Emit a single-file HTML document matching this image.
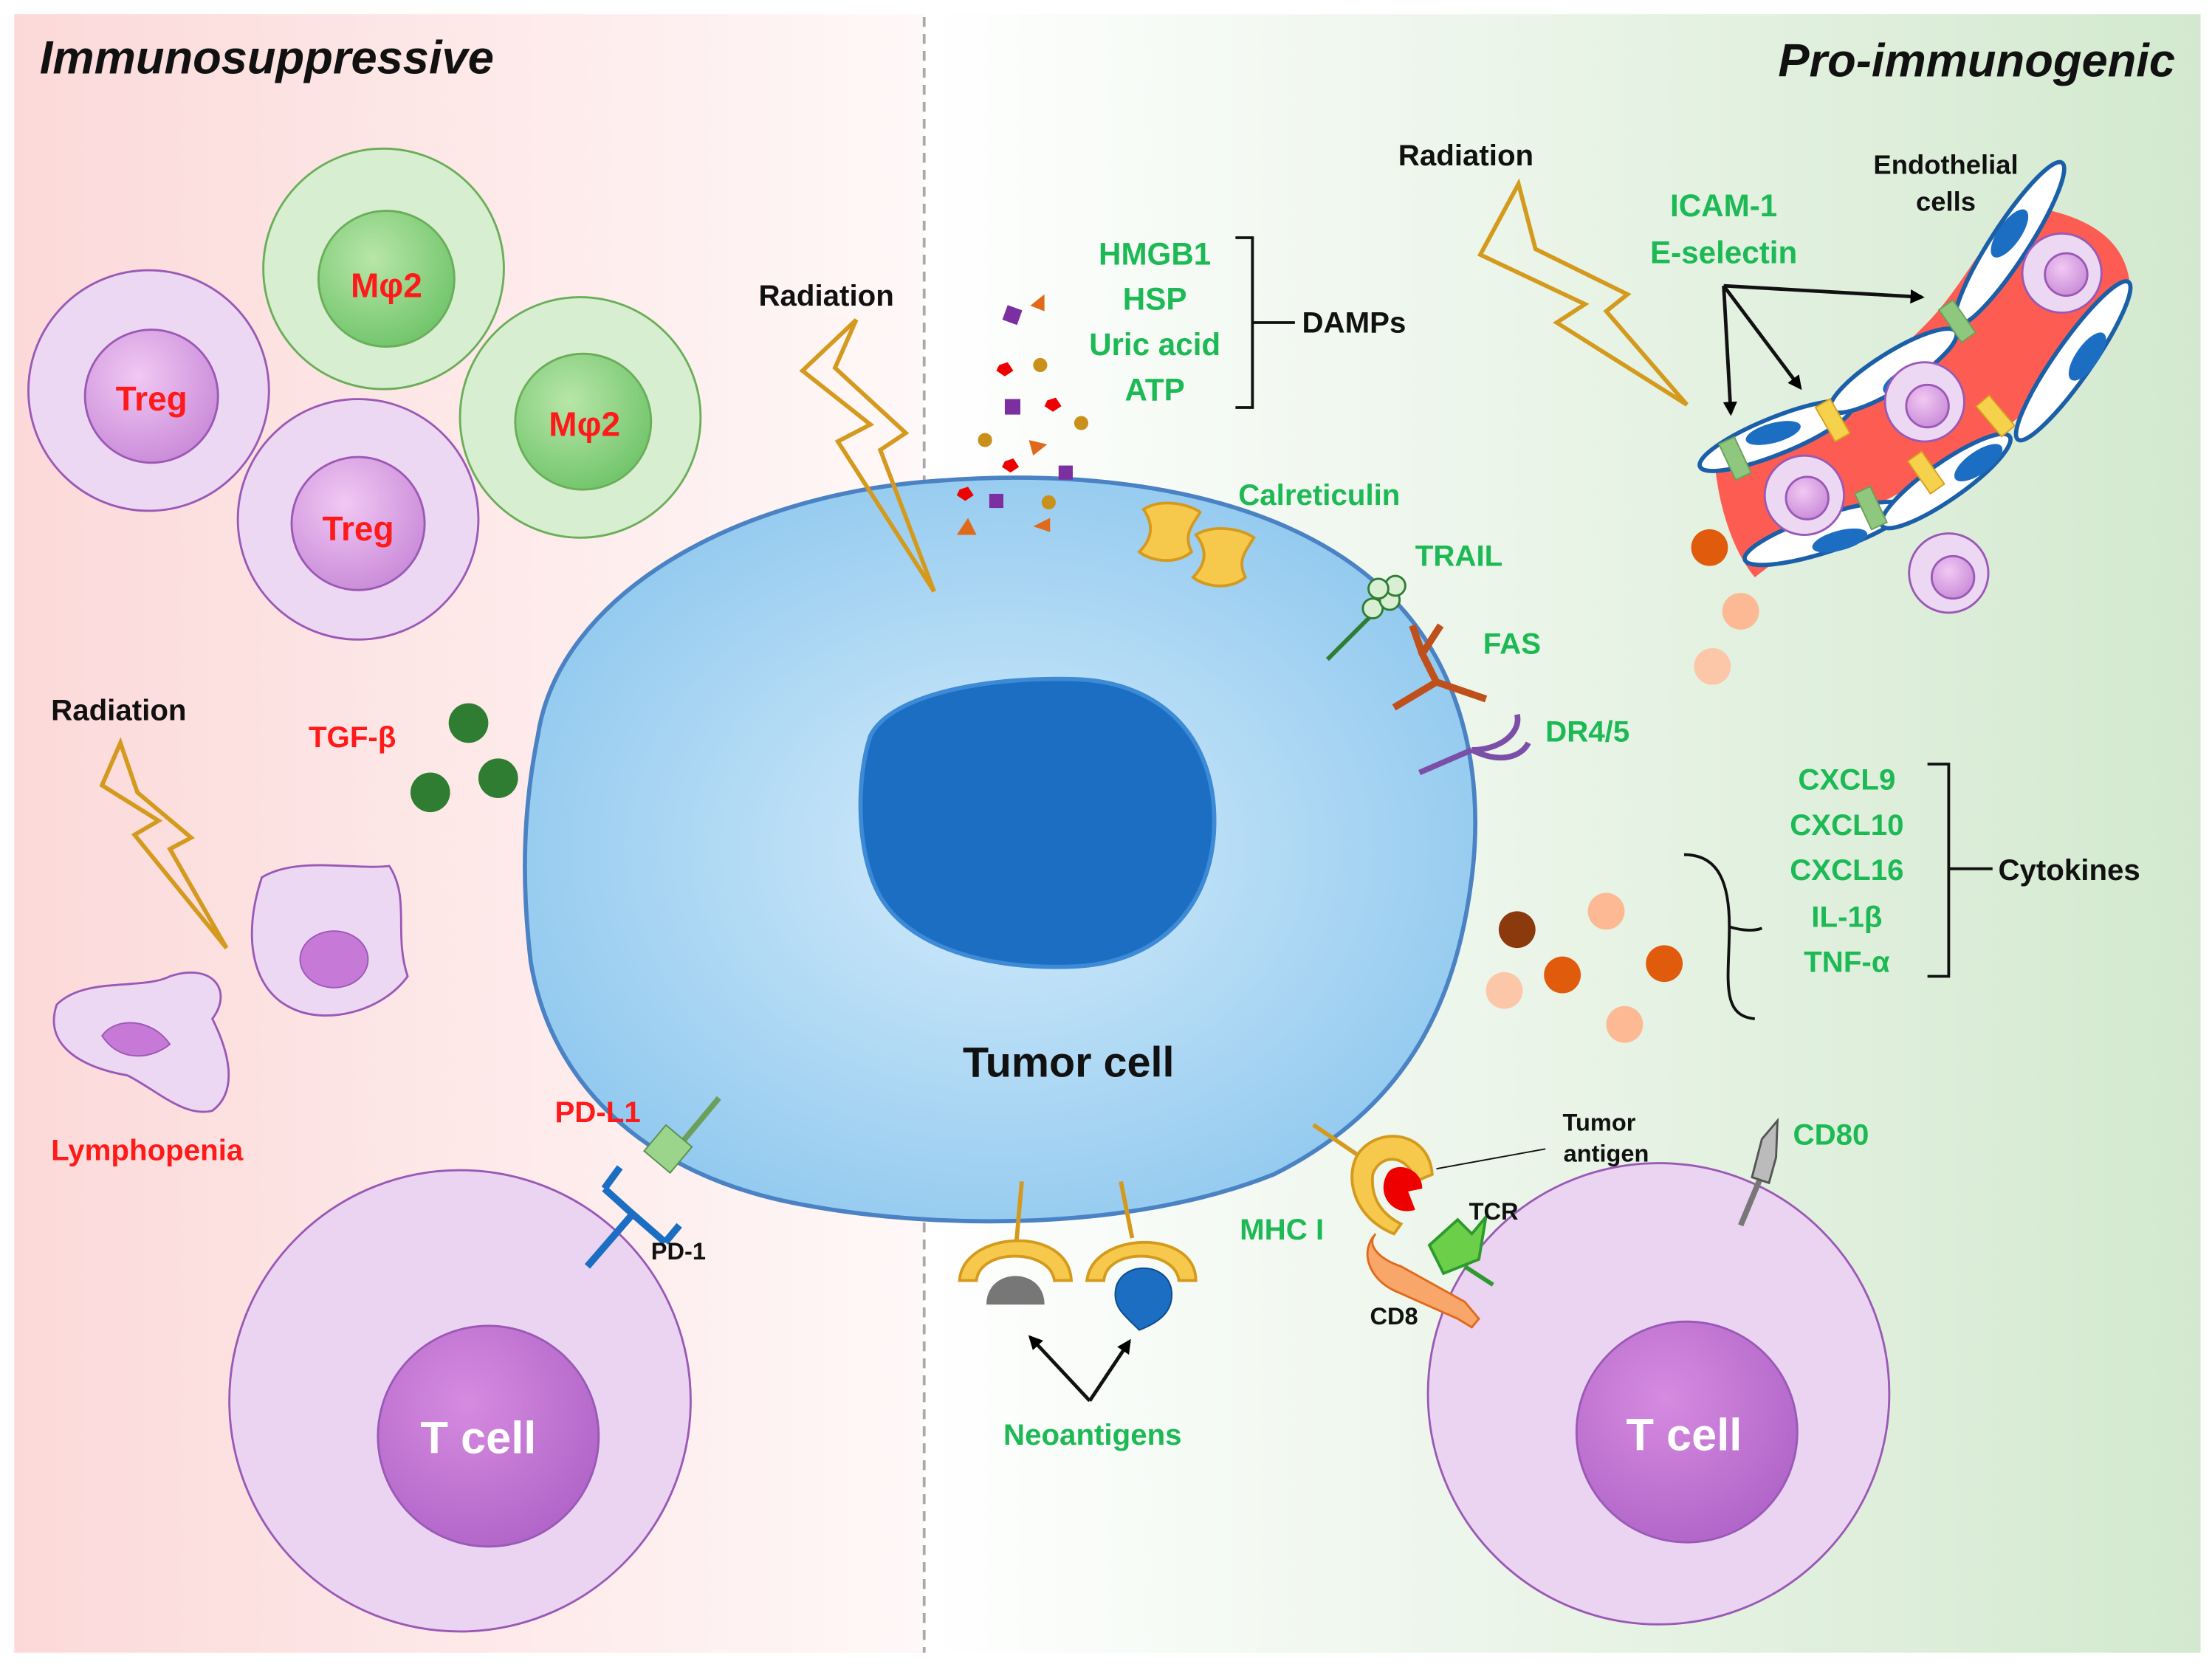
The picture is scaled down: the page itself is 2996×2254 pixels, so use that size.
<!DOCTYPE html>
<html><head><meta charset="utf-8"><style>
html,body{margin:0;padding:0;background:#fff;}
svg{display:block;}
text{font-family:"Liberation Sans",sans-serif;font-weight:bold;}
</style></head><body>
<svg width="2996" height="2254" viewBox="0 0 1563 1176" xmlns="http://www.w3.org/2000/svg">
<defs>
<linearGradient id="lbg" x1="0" x2="1"><stop offset="0" stop-color="#fcd9d9"/><stop offset="1" stop-color="#fff8f8"/></linearGradient>
<linearGradient id="rbg" x1="0" x2="1"><stop offset="0" stop-color="#ffffff"/><stop offset="1" stop-color="#d3e9cf"/></linearGradient>
<radialGradient id="tum" cx="0.5" cy="0.5" r="0.6"><stop offset="0" stop-color="#d4ecfb"/><stop offset="1" stop-color="#8cc6ee"/></radialGradient>
<radialGradient id="inP" cx="0.4" cy="0.35" r="0.7"><stop offset="0" stop-color="#f1c8f3"/><stop offset="1" stop-color="#c98ad8"/></radialGradient>
<radialGradient id="inG" cx="0.4" cy="0.35" r="0.7"><stop offset="0" stop-color="#b8e6a8"/><stop offset="1" stop-color="#6fc46a"/></radialGradient>
<radialGradient id="inT" cx="0.4" cy="0.35" r="0.7"><stop offset="0" stop-color="#d68be0"/><stop offset="1" stop-color="#b064c8"/></radialGradient>
<marker id="ar" markerWidth="10" markerHeight="10" refX="8" refY="5" orient="auto" markerUnits="userSpaceOnUse"><path d="M0,0 L10,5 L0,10 z" fill="#000"/></marker>
</defs>
<rect x="0" y="0" width="1563" height="1176" fill="#fff"/>
<rect x="10" y="10" width="643" height="1158" fill="url(#lbg)"/>
<rect x="653" y="10" width="902" height="1158" fill="url(#rbg)"/>
<line x1="653" y1="12" x2="653" y2="1168" stroke="#aaa" stroke-width="2" stroke-dasharray="7,5"/>
<text x="28" y="52" font-size="33" font-style="italic" fill="#111">Immunosuppressive</text>
<text x="1537" y="54" font-size="33" font-style="italic" fill="#111" text-anchor="end">Pro-immunogenic</text>

<g stroke="#9b59b6" stroke-width="1.5">
<circle cx="105" cy="276" r="85" fill="#ecd8f3"/><circle cx="107" cy="280" r="47" fill="url(#inP)"/>
<circle cx="253" cy="367" r="85" fill="#ecd8f3"/><circle cx="253" cy="370" r="47" fill="url(#inP)"/>
</g>
<g stroke="#6aae5a" stroke-width="1.5">
<circle cx="271" cy="190" r="85" fill="#d7eed0"/><circle cx="273" cy="197" r="48" fill="url(#inG)"/>
<circle cx="410" cy="295" r="85" fill="#d7eed0"/><circle cx="412" cy="298" r="48" fill="url(#inG)"/>
</g>
<g font-size="24" fill="#ff1a1a" text-anchor="middle">
<text x="107" y="290">Treg</text><text x="253" y="382">Treg</text>
<text x="273" y="210">Mφ2</text><text x="413" y="308">Mφ2</text>
</g>

<text x="36" y="509" font-size="21" fill="#111">Radiation</text>
<polygon points="85,525 72,555 112,580 95,590 160,670 120,600 135,592 97,560" fill="none" stroke="#d49a1e" stroke-width="3"/>
<path d="M185,620 C210,605 250,615 275,612 C290,635 278,660 288,690 C270,715 230,725 205,712 C180,700 170,665 185,620z" fill="#ecd8f3" stroke="#9b59b6" stroke-width="1.5"/>
<ellipse cx="236" cy="678" rx="24" ry="20" fill="#c779d8" stroke="#9b59b6"/>
<path d="M40,710 C60,690 100,700 120,690 C150,680 165,700 150,720 C160,740 170,770 150,785 C130,790 110,770 90,760 C60,755 30,740 40,710z" fill="#ecd8f3" stroke="#9b59b6" stroke-width="1.5"/>
<path d="M72,732 C82,718 108,720 120,738 C108,748 85,752 72,732z" fill="#c779d8" stroke="#9b59b6"/>
<text x="36" y="820" font-size="21" fill="#ff1a1a">Lymphopenia</text>
<text x="218" y="528" font-size="21" fill="#ff1a1a">TGF-β</text>
<circle cx="331" cy="511" r="14" fill="#2e7d32"/><circle cx="304" cy="560" r="14" fill="#2e7d32"/><circle cx="352" cy="550" r="14" fill="#2e7d32"/>

<text x="536" y="216" font-size="21" fill="#111">Radiation</text>

<path d="M380,520 C395,420 520,350 660,340 C780,330 900,350 970,410 C1030,460 1050,540 1040,620 C1030,700 1000,780 900,830 C800,870 660,870 560,850 C460,830 390,770 375,680 C368,620 370,570 380,520z" fill="url(#tum)" stroke="#4a82c4" stroke-width="3"/>
<path d="M615,520 C630,490 700,478 760,480 C820,482 858,520 858,580 C858,640 820,680 760,683 C700,686 640,670 620,630 C605,600 605,550 615,520z" fill="#1b6ec2" stroke="#3d8ad6" stroke-width="3"/>
<text x="755" y="761" font-size="30" fill="#111" text-anchor="middle">Tumor cell</text>
<polygon points="605,226 567,262 615,300 592,312 660,418 622,318 640,306 590,260" fill="none" stroke="#d49a1e" stroke-width="3"/>

<g>
<rect x="710" y="217" width="11" height="11" fill="#7b2fa0" transform="rotate(20 715 222)"/>
<polygon points="728,216 738,208 738,220" fill="#e06a1b"/>
<circle cx="735" cy="258" r="5" fill="#c9911c"/>
<polygon points="706,258 712,256 716,262 710,266 704,262" fill="#e00"/>
<rect x="710" y="282" width="11" height="11" fill="#7b2fa0"/>
<polygon points="740,283 746,281 750,287 744,291 738,287" fill="#e00"/>
<circle cx="764" cy="299" r="5" fill="#c9911c"/>
<circle cx="696" cy="311" r="5" fill="#c9911c"/>
<polygon points="727,311 740,314 730,322" fill="#e06a1b"/>
<polygon points="710,326 716,324 720,330 714,334 708,330" fill="#e00"/>
<rect x="748" y="329" width="10" height="10" fill="#7b2fa0"/>
<polygon points="678,346 684,344 688,350 682,354 676,350" fill="#e00"/>
<rect x="699" y="349" width="10" height="10" fill="#7b2fa0"/>
<circle cx="741" cy="355" r="5" fill="#c9911c"/>
<polygon points="676,378 684,366 690,378" fill="#e06a1b"/>
<polygon points="730,372 742,366 742,376" fill="#e06a1b"/>
</g>
<g font-size="22" fill="#1db954" text-anchor="middle">
<text x="816" y="187">HMGB1</text><text x="816" y="219">HSP</text><text x="816" y="251">Uric acid</text><text x="816" y="283">ATP</text>
</g>
<path d="M873,168 L885,168 L885,288 L873,288 M885,228 L915,228" fill="none" stroke="#111" stroke-width="2"/>
<text x="920" y="235" font-size="21" fill="#111">DAMPs</text>

<g fill="#f6c84c" stroke="#d49a1e" stroke-width="2">
<path d="M808,360 C820,352 840,356 848,362 C842,372 836,378 842,390 C830,400 812,396 805,390 C815,380 815,370 808,360z"/>
<path d="M845,378 C858,370 878,374 886,380 C880,390 874,396 880,408 C868,418 850,414 843,408 C853,398 853,388 845,378z"/>
</g>
<text x="875" y="357" font-size="21" fill="#1db954">Calreticulin</text>
<line x1="938" y1="466" x2="972" y2="432" stroke="#2e7d32" stroke-width="3"/>
<g fill="#d9efd3" stroke="#2e7d32" stroke-width="1.5"><circle cx="970" cy="430" r="7"/><circle cx="982" cy="424" r="7"/><circle cx="986" cy="414" r="7"/><circle cx="974" cy="416" r="7"/></g>
<text x="1000" y="400" font-size="21" fill="#1db954">TRAIL</text>
<path d="M985,500 L1015,482 L1050,494 M1015,482 L1005,462 L1018,442 M1005,462 L998,442" fill="none" stroke="#c0501b" stroke-width="5"/>
<text x="1048" y="462" font-size="21" fill="#1db954">FAS</text>
<path d="M1003,546 L1040,530 M1040,530 C1060,530 1075,518 1072,505 M1040,530 C1060,540 1075,535 1080,525" fill="none" stroke="#7b4fa8" stroke-width="4"/>
<text x="1092" y="524" font-size="21" fill="#1db954">DR4/5</text>

<g font-size="21" fill="#1db954" text-anchor="middle">
<text x="1305" y="558">CXCL9</text><text x="1305" y="590">CXCL10</text><text x="1305" y="622">CXCL16</text><text x="1305" y="655">IL-1β</text><text x="1305" y="687">TNF-α</text>
</g>
<path d="M1362,540 L1377,540 L1377,690 L1362,690 M1377,614 L1408,614" fill="none" stroke="#111" stroke-width="2"/>
<text x="1412" y="622" font-size="21" fill="#111">Cytokines</text>
<path d="M1190,604 C1215,604 1222,625 1222,655 C1232,658 1240,658 1245,656 M1222,655 C1222,690 1215,718 1240,720" fill="none" stroke="#111" stroke-width="2"/>
<circle cx="1072" cy="657" r="13" fill="#8b3a0e"/><circle cx="1135" cy="644" r="13" fill="#fcb994"/>
<circle cx="1104" cy="689" r="13" fill="#e05b0c"/><circle cx="1176" cy="681" r="13" fill="#e05b0c"/>
<circle cx="1063" cy="700" r="13" fill="#fcc7a8"/><circle cx="1148" cy="724" r="13" fill="#fcb994"/>
<circle cx="1208" cy="387" r="13" fill="#e05b0c"/><circle cx="1230" cy="432" r="13" fill="#fcb994"/><circle cx="1210" cy="471" r="13" fill="#fcc7a8"/>

<text x="988" y="117" font-size="21" fill="#111">Radiation</text>
<polygon points="1073,130 1046,180 1120,215 1100,228 1192,286 1135,220 1150,208 1085,176" fill="none" stroke="#d49a1e" stroke-width="3"/>

<path d="M1212,330 C1260,310 1310,280 1360,230 C1390,200 1405,160 1430,145 C1460,150 1500,160 1505,200 C1490,240 1460,270 1420,300 C1380,330 1340,350 1300,370 C1270,385 1250,400 1240,408 C1225,390 1215,360 1212,330z" fill="#fc5c52"/>
<g fill="#fff" stroke="#1b5fa8" stroke-width="3">
<ellipse cx="1255" cy="308" rx="58" ry="13" transform="rotate(-22 1255 308)"/>
<ellipse cx="1338" cy="262" rx="52" ry="13" transform="rotate(-32 1338 262)"/>
<ellipse cx="1420" cy="172" rx="68" ry="13" transform="rotate(-57 1420 172)"/>
<ellipse cx="1290" cy="377" rx="60" ry="13" transform="rotate(-18 1290 377)"/>
<ellipse cx="1375" cy="340" rx="55" ry="13" transform="rotate(-35 1375 340)"/>
<ellipse cx="1465" cy="255" rx="68" ry="13" transform="rotate(-55 1465 255)"/>
</g>
<g fill="#1b6ec2">
<ellipse cx="1253" cy="306" rx="20" ry="7" transform="rotate(-15 1253 306)"/>
<ellipse cx="1349" cy="268" rx="20" ry="8" transform="rotate(-25 1349 268)"/>
<ellipse cx="1420" cy="165" rx="20" ry="8" transform="rotate(-55 1420 165)"/>
<ellipse cx="1300" cy="382" rx="20" ry="7" transform="rotate(-15 1300 382)"/>
<ellipse cx="1398" cy="327" rx="20" ry="8" transform="rotate(-35 1398 327)"/>
<ellipse cx="1475" cy="252" rx="20" ry="8" transform="rotate(-55 1475 252)"/>
</g>
<g fill="#8fc77f" stroke="#6aa05a"><rect x="1220" y="310" width="12" height="28" transform="rotate(-25 1226 324)"/><rect x="1377" y="213" width="12" height="28" transform="rotate(-35 1383 227)"/><rect x="1316" y="345" width="12" height="28" transform="rotate(-25 1322 359)"/></g>
<g fill="#f6d24c" stroke="#d4a01e"><rect x="1289" y="283" width="12" height="28" transform="rotate(-30 1295 297)"/><rect x="1404" y="280" width="12" height="28" transform="rotate(-40 1410 294)"/><rect x="1355" y="320" width="12" height="28" transform="rotate(-35 1361 334)"/></g>
<g stroke="#9b59b6" stroke-width="1.5">
<circle cx="1457" cy="193" r="28" fill="#ecd8f3"/><circle cx="1460" cy="194" r="15" fill="url(#inP)"/>
<circle cx="1360" cy="284" r="28" fill="#ecd8f3"/><circle cx="1362" cy="287" r="15" fill="url(#inP)"/>
<circle cx="1275" cy="350" r="28" fill="#ecd8f3"/><circle cx="1277" cy="352" r="15" fill="url(#inP)"/>
<circle cx="1377" cy="405" r="28" fill="#ecd8f3"/><circle cx="1380" cy="408" r="15" fill="url(#inP)"/>
</g>
<text x="1375" y="123" font-size="19" fill="#111" text-anchor="middle" font-weight="normal">Endothelial</text>
<text x="1375" y="149" font-size="19" fill="#111" text-anchor="middle" font-weight="normal">cells</text>
<text x="1218" y="153" font-size="22" fill="#1db954" text-anchor="middle">ICAM-1</text>
<text x="1218" y="186" font-size="22" fill="#1db954" text-anchor="middle">E-selectin</text>
<g stroke="#111" stroke-width="2.5" fill="none">
<line x1="1218" y1="202" x2="1358" y2="210" marker-end="url(#ar)"/>
<line x1="1218" y1="202" x2="1272" y2="274" marker-end="url(#ar)"/>
<line x1="1218" y1="202" x2="1223" y2="292" marker-end="url(#ar)"/>
</g>

<g stroke="#9b59b6" stroke-width="1.5">
<circle cx="325" cy="990" r="163" fill="#ead4f1"/><circle cx="345" cy="1015" r="78" fill="url(#inT)"/>
<circle cx="1172" cy="985" r="163" fill="#ead4f1"/><circle cx="1192" cy="1012" r="78" fill="url(#inT)"/>
</g>
<text x="338" y="1027" font-size="32" fill="#fff" text-anchor="middle">T cell</text>
<text x="1190" y="1025" font-size="32" fill="#fff" text-anchor="middle">T cell</text>

<line x1="478" y1="812" x2="508" y2="776" stroke="#6aa05a" stroke-width="4"/>
<rect x="460" y="800" width="24" height="24" fill="#9bd48b" stroke="#5a9050" transform="rotate(40 472 812)"/>
<text x="392" y="793" font-size="21" fill="#ff1a1a">PD-L1</text>
<path d="M415,895 L447,858 M447,858 L427,840 M447,858 L470,878 M427,840 L438,825 M470,878 L480,866" fill="none" stroke="#1b6ec2" stroke-width="5"/>
<text x="460" y="890" font-size="17" fill="#111" font-weight="normal">PD-1</text>

<line x1="722" y1="835" x2="718" y2="880" stroke="#d49a1e" stroke-width="3"/>
<line x1="792" y1="835" x2="800" y2="875" stroke="#d49a1e" stroke-width="3"/>
<path d="M678,905 C680,870 755,865 757,905 L745,905 C742,882 692,882 690,905z" fill="#f6c84c" stroke="#d49a1e" stroke-width="2"/>
<path d="M697,922 C697,895 738,895 738,922z" fill="#777"/>
<path d="M768,905 C772,870 845,868 845,905 L833,905 C830,882 782,882 780,905z" fill="#f6c84c" stroke="#d49a1e" stroke-width="2"/>
<path d="M788,915 C788,890 828,890 828,915 C828,928 818,935 805,940 C795,930 788,925 788,915z" fill="#1b6ec2" stroke="#0d4a8a"/>
<g stroke="#111" stroke-width="2.5"><line x1="770" y1="990" x2="728" y2="945" marker-end="url(#ar)"/><line x1="770" y1="990" x2="798" y2="948" marker-end="url(#ar)"/></g>
<text x="772" y="1021" font-size="21" fill="#1db954" text-anchor="middle">Neoantigens</text>

<line x1="928" y1="795" x2="962" y2="818" stroke="#d49a1e" stroke-width="3"/>
<path d="M960,815 C975,795 1010,800 1012,830 L1000,835 C995,815 975,815 970,830 C968,850 980,860 990,865 L985,872 C955,860 950,830 960,815z" fill="#f6c84c" stroke="#d49a1e" stroke-width="2"/>
<path d="M980,830 C985,820 1005,825 1005,840 L995,842 L1000,855 C985,860 972,845 980,830z" fill="#e00"/>
<line x1="1015" y1="826" x2="1092" y2="812" stroke="#111" stroke-width="1"/>
<text x="1130" y="799" font-size="17" fill="#111" text-anchor="middle" font-weight="normal">Tumor</text>
<text x="1135" y="821" font-size="17" fill="#111" text-anchor="middle" font-weight="normal">antigen</text>
<text x="876" y="876" font-size="21" fill="#1db954">MHC I</text>
<path d="M1010,880 L1030,862 L1040,872 L1050,860 L1045,890 L1020,900z" fill="#6ccf4a" stroke="#2e9a2e" stroke-width="2"/>
<line x1="1035" y1="895" x2="1055" y2="908" stroke="#2e9a2e" stroke-width="3"/>
<text x="1038" y="862" font-size="17" fill="#111" font-weight="normal">TCR</text>
<path d="M972,872 C965,880 975,890 990,895 L1035,920 L1045,932 L1040,938 L1030,932 L985,912 C968,904 960,885 972,872z" fill="#f9a66a" stroke="#e06a1b" stroke-width="1.5"/>
<text x="968" y="936" font-size="17" fill="#111" font-weight="normal">CD8</text>

<line x1="1230" y1="866" x2="1245" y2="830" stroke="#777" stroke-width="4"/>
<path d="M1238,832 L1245,805 L1256,792 L1255,818 L1250,836z" fill="#bbb" stroke="#555" stroke-width="1.5"/>
<text x="1267" y="809" font-size="21" fill="#1db954">CD80</text>
</svg>
</body></html>
